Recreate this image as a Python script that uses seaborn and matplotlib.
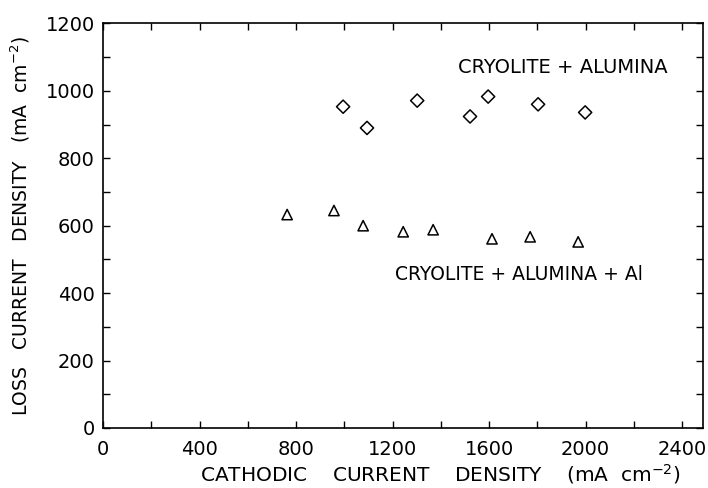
import matplotlib
matplotlib.use("Agg")
import matplotlib.pyplot as plt
import seaborn as sns
from matplotlib.ticker import MultipleLocator

# Data
x_alumina = [995, 1094, 1302, 1521, 1596, 1803, 1998]
y_alumina = [953, 890, 971, 924, 983, 960, 936]
x_al = [763, 957, 1078, 1244, 1368, 1612, 1770, 1969]
y_al = [633, 645, 600, 582, 588, 561, 567, 552]

x_ticks = [0, 400, 800, 1200, 1600, 2000, 2400]
y_ticks = [0, 200, 400, 600, 800, 1000, 1200]
label_alumina = "CRYOLITE + ALUMINA"
label_al = "CRYOLITE + ALUMINA + Al"

sns.set_theme(style="ticks")
plt.rcParams['font.family'] = ['DejaVu Sans']
plt.rcParams.update({'text.color': 'black', 'axes.labelcolor': 'black',
                     'xtick.color': 'black', 'ytick.color': 'black'})

fig = plt.figure(figsize=(7.08, 4.88), dpi=100)
ax = fig.add_axes([0.1455, 0.123, 0.848, 0.829])

sns.scatterplot(x=x_alumina, y=y_alumina, marker='D', s=45,
                facecolor='none', edgecolor='black', linewidth=1.1, ax=ax)
sns.scatterplot(x=x_al, y=y_al, marker='^', s=55,
                facecolor='none', edgecolor='black', linewidth=1.1, ax=ax)

ax.set_xlim(0, 2488)
ax.set_ylim(0, 1200)
ax.set_xticks(x_ticks)
ax.set_yticks(y_ticks)
ax.xaxis.set_minor_locator(MultipleLocator(200))
ax.yaxis.set_minor_locator(MultipleLocator(100))
ax.tick_params(which='both', direction='in', top=True, right=True,
               color='black', width=1.0, length=5)
ax.tick_params(which='major', labelsize=14)
ax.tick_params(axis='x', which='major', pad=9)
ax.tick_params(axis='y', which='major', pad=6)
for sp in ax.spines.values():
    sp.set_visible(True)
    sp.set_color('black')
    sp.set_linewidth(1.2)

ax.set_xlabel("CATHODIC    CURRENT    DENSITY    (mA  cm$^{-2}$)",
              fontsize=14.5, va='center', ha='center')
ax.xaxis.set_label_coords(0.562, -0.113)
ax.set_ylabel("LOSS   CURRENT   DENSITY   (mA  cm$^{-2}$)",
              fontsize=13.5, va='center', ha='center')
ax.yaxis.set_label_coords(-0.138, 0.5)

ax.text(1470, 1070, label_alumina, fontsize=14, va='center', ha='left')
ax.text(1210, 456, label_al, fontsize=13.5, va='center', ha='left')

fig.savefig("out.png", dpi=100)
